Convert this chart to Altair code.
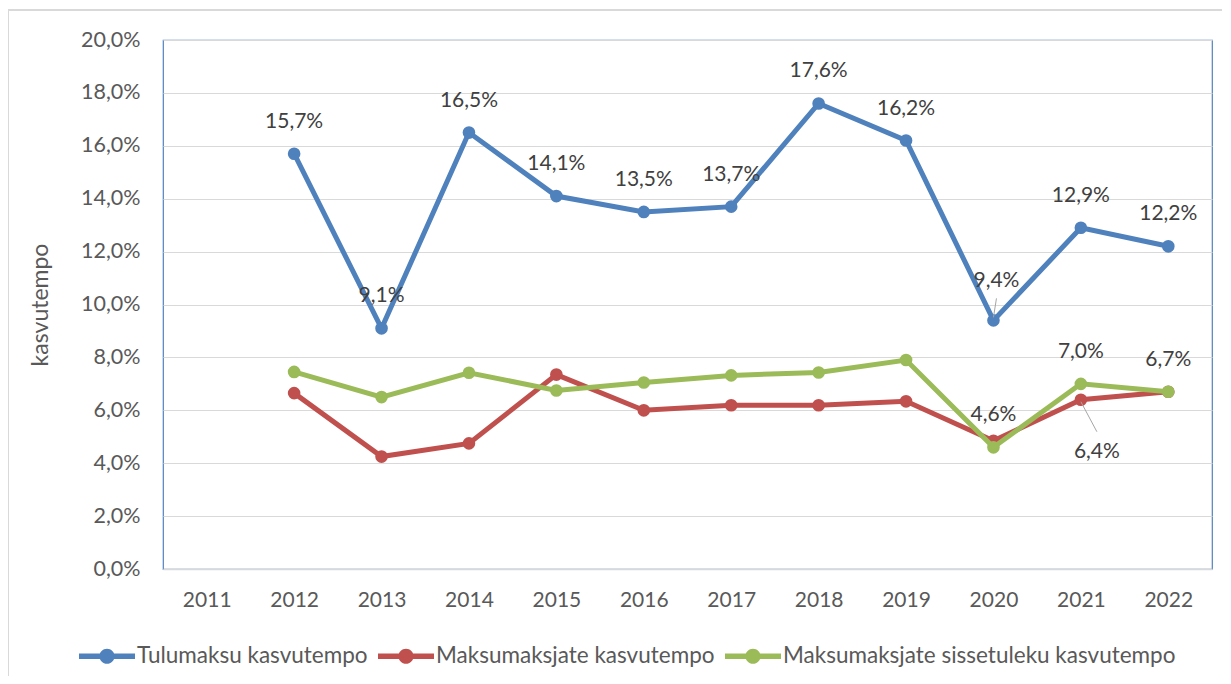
import altair as alt
import pandas as pd

years = ["2011", "2012", "2013", "2014", "2015", "2016", "2017", "2018", "2019", "2020", "2021", "2022"]
series_names = ["Tulumaksu kasvutempo", "Maksumaksjate kasvutempo", "Maksumaksjate sissetuleku kasvutempo"]
series_colors = ["#4F81BD", "#C0504D", "#9BBB59"]

tulumaks = [None, 15.7, 9.1, 16.5, 14.1, 13.5, 13.7, 17.6, 16.2, 9.4, 12.9, 12.2]
maksumaksjad = [None, 6.65, 4.25, 4.75, 7.35, 6.0, 6.19, 6.19, 6.34, 4.85, 6.4, 6.7]
sissetulek = [None, 7.45, 6.5, 7.42, 6.75, 7.05, 7.32, 7.43, 7.9, 4.6, 7.0, 6.7]

# which points carry a data label: (series index, year)
labels_plain = [(0, y) for y in years[1:] if y != "2020"] + [(2, "2020"), (2, "2021"), (2, "2022")]
labels_leader_up = [(0, "2020")]
labels_leader_down = [(1, "2021")]

rows = []
for si, vals in enumerate([tulumaks, maksumaksjad, sissetulek]):
    for y, v in zip(years, vals):
        if v is None:
            continue
        key = (si, y)
        lab = "plain" if key in labels_plain else "up" if key in labels_leader_up else "down" if key in labels_leader_down else "none"
        rows.append({"year": y, "series": series_names[si], "value": v / 100.0, "lab": lab, "s": si})
df = pd.DataFrame(rows)

font = "Lato"
x_enc = alt.X("year:O", scale=alt.Scale(type="point", padding=0.5, domain=years),
              axis=alt.Axis(title=None, labelAngle=0, labelFontSize=21, labelColor="#595959", labelFont=font,
                            labelPadding=20, ticks=False, domain=True, domainColor="#D9D9D9", domainWidth=1.5,
                            grid=False))
y_enc = alt.Y("value:Q", scale=alt.Scale(domain=[0, 0.2], nice=False),
              axis=alt.Axis(title="kasvutempo", titleFontSize=23, titleFont=font, titleColor="#595959",
                            titleFontWeight="normal", titleX=-123, titleBaseline="middle",
                            labelExpr="replace(format(datum.value, '.1%'), '.', ',')",
                            values=[0, 0.02, 0.04, 0.06, 0.08, 0.1, 0.12, 0.14, 0.16, 0.18, 0.2],
                            labelFontSize=21.5, labelFont=font, labelColor="#595959", labelPadding=23,
                            ticks=False, domain=False, grid=True, gridColor="#D9D9D9", gridWidth=1))
color_enc = alt.Color("series:N", scale=alt.Scale(domain=series_names, range=series_colors),
                      legend=alt.Legend(
                          title=None, orient="none", direction="horizontal", columns=3,
                          legendX=-84, legendY=588,
                          labelFontSize=22.5, labelFont=font, labelColor="#595959", labelOffset=2,
                          labelLimit=0,
                          columnPadding=10, symbolSize=3136,
                          symbolType="M-1,-0.1L1,-0.1L1,0.1L-1,0.1Z M0.27,0A0.27,0.27 0 1 1 -0.27,0A0.27,0.27 0 1 1 0.27,0Z",
                          symbolStrokeWidth=0, symbolOpacity=1))

base = alt.Chart(df)
frame = base.mark_rect(fillOpacity=0, stroke="#D9D9D9", strokeWidth=1.5).encode(
    x=alt.value(-155), x2=alt.value(1100), y=alt.value(-30), y2=alt.value(700))
layers = [frame]
for si in range(3):
    sub = base.transform_filter(alt.datum.s == si)
    layers.append(sub.mark_line(strokeWidth=5, color=series_colors[si]).encode(x=x_enc, y=y_enc))
    layers.append(sub.mark_point(filled=True, size=160, opacity=1).encode(x=x_enc, y=y_enc, color=color_enc))

lab_base = base.transform_calculate(txt="replace(format(datum.value, '.1%'), '.', ',')")
text_style = dict(fontSize=21, font=font, color="#404040", align="center", baseline="middle")
layers.append(lab_base.transform_filter(alt.datum.lab == "plain").mark_text(dy=-32, **text_style)
              .encode(x=x_enc, y=y_enc, text="txt:N"))
layers.append(lab_base.transform_filter(alt.datum.lab == "up").mark_text(dy=-39, dx=3, **text_style)
              .encode(x=x_enc, y=y_enc, text="txt:N"))
layers.append(lab_base.transform_filter(alt.datum.lab == "down").mark_text(dy=52, dx=16, **text_style)
              .encode(x=x_enc, y=y_enc, text="txt:N"))
layers.append(base.transform_filter(alt.datum.lab == "up")
              .mark_rule(color="#A6A6A6", strokeWidth=1, yOffset=-3, y2Offset=-22, x2Offset=3)
              .encode(x=x_enc, y=y_enc, x2="year:O", y2="value:Q"))
layers.append(base.transform_filter(alt.datum.lab == "down")
              .mark_rule(color="#A6A6A6", strokeWidth=1, yOffset=2, y2Offset=32, x2Offset=16)
              .encode(x=x_enc, y=y_enc, x2="year:O", y2="value:Q"))

chart = alt.layer(*layers).properties(
    width=1049, height=529,
    autosize=alt.AutoSizeParams(type="none"),
    padding={"left": 155, "top": 32, "right": 10, "bottom": 107},
    background="white",
).configure_view(stroke="#4F81BD", strokeWidth=1.2)

chart.save("out.html", embed_options={"renderer": "svg", "actions": False})
